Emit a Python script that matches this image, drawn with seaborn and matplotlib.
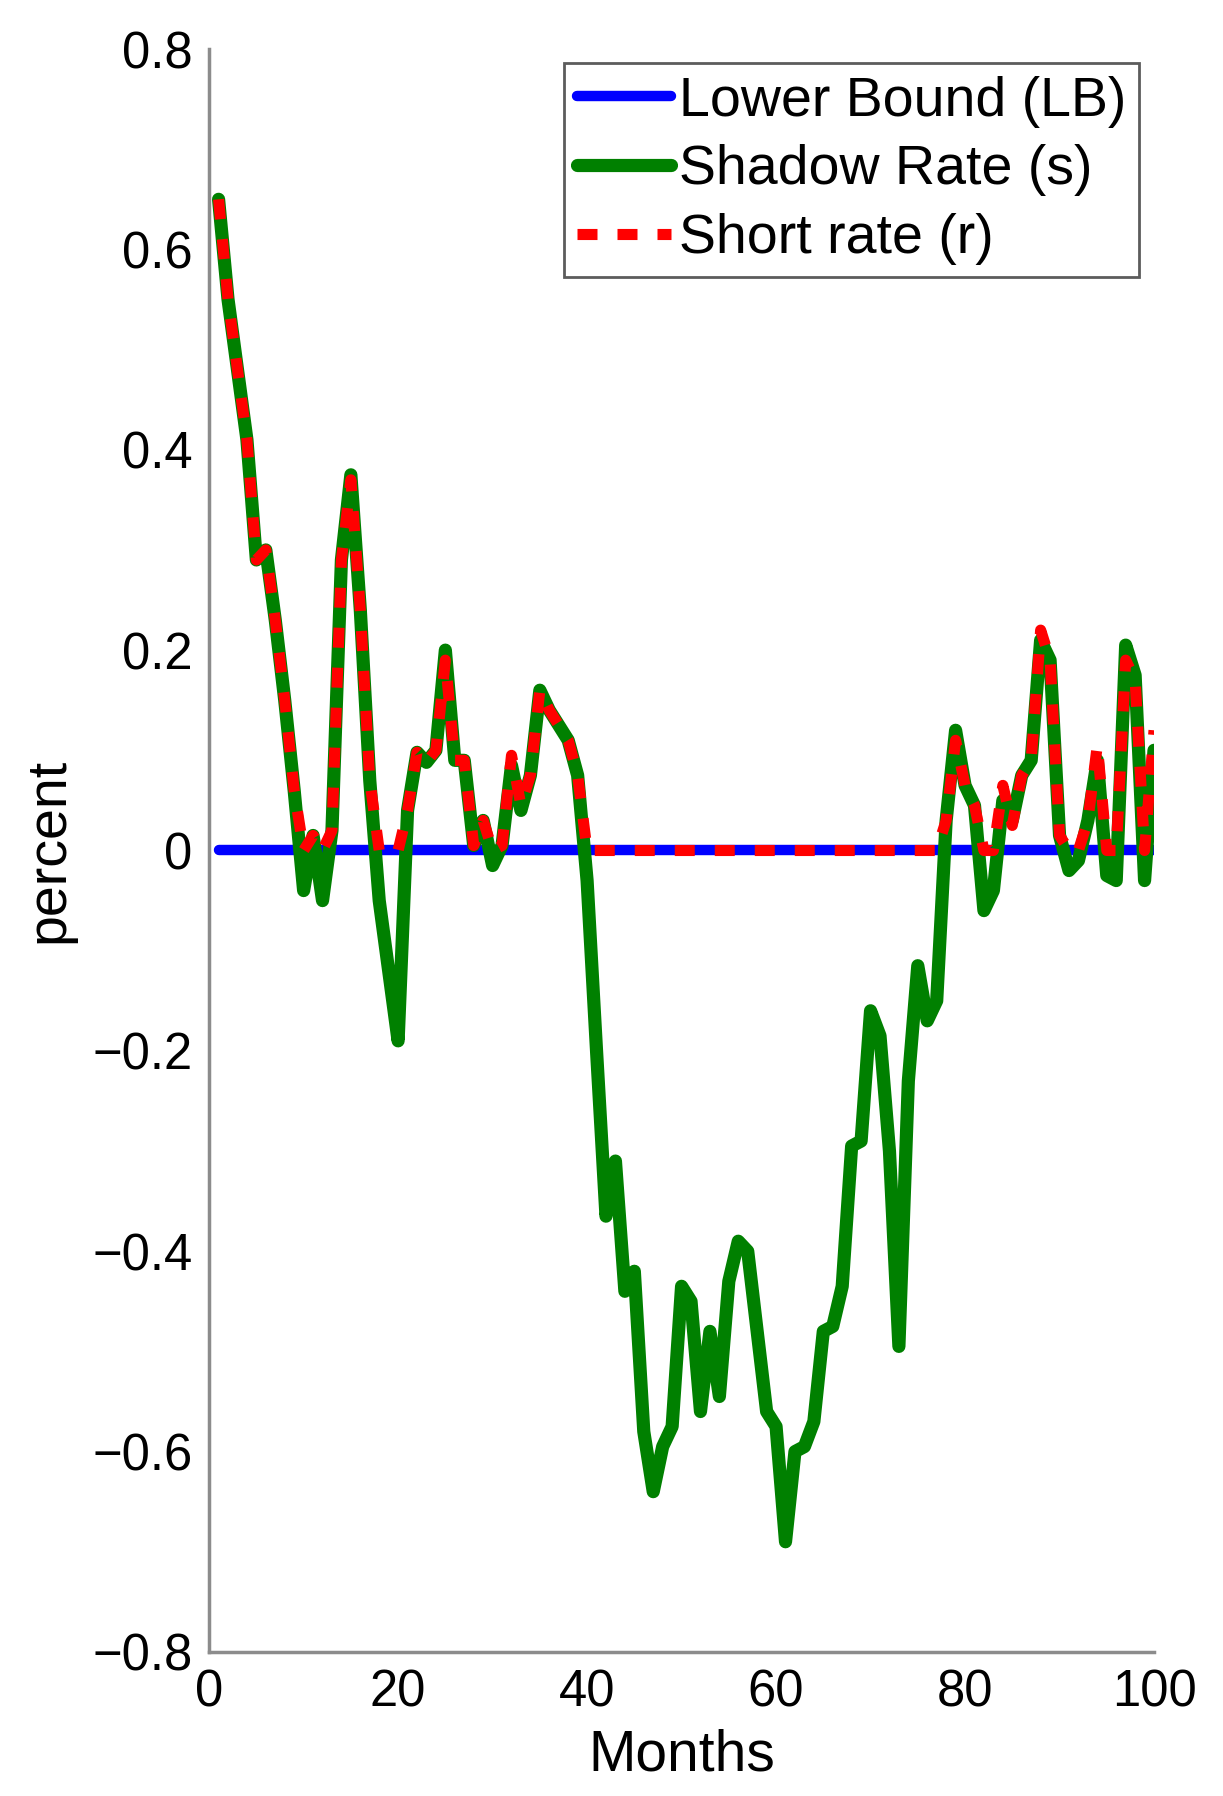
import numpy as np
import pandas as pd
import matplotlib
matplotlib.use("Agg")
import matplotlib.pyplot as plt
import seaborn as sns

# months 1..100
months = list(range(1, 101))

# shadow rate s (green)
shadow_rate = [
    0.65, 0.55, 0.48, 0.41, 0.29, 0.30, 0.23, 0.15, 0.06, -0.04,
    0.015, -0.05, 0.02, 0.29, 0.375, 0.24, 0.07, -0.05, -0.12, -0.19,
    0.04, 0.098, 0.088, 0.10, 0.20, 0.09, 0.09, 0.005, 0.03, -0.015,
    0.005, 0.085, 0.04, 0.075, 0.16, 0.14, 0.125, 0.11, 0.075, -0.03,
    -0.20, -0.365, -0.31, -0.44, -0.42, -0.58, -0.64, -0.595, -0.575, -0.435,
    -0.45, -0.56, -0.48, -0.545, -0.43, -0.39, -0.40, -0.48, -0.56, -0.575,
    -0.69, -0.60, -0.595, -0.57, -0.48, -0.475, -0.435, -0.295, -0.29, -0.16,
    -0.185, -0.30, -0.495, -0.23, -0.115, -0.17, -0.15, 0.03, 0.12, 0.065,
    0.045, -0.06, -0.04, 0.05, 0.03, 0.075, 0.09, 0.21, 0.19, 0.015,
    -0.02, -0.01, 0.03, 0.09, -0.025, -0.03, 0.205, 0.175, -0.03, 0.10,
]

# short rate r (red dashed)
short_rate = [
    0.65, 0.55, 0.48, 0.41, 0.29, 0.30, 0.23, 0.15, 0.06, 0.0,
    0.015, 0.0, 0.02, 0.29, 0.37, 0.24, 0.07, 0.0, 0.0, 0.0,
    0.04, 0.098, 0.088, 0.10, 0.19, 0.09, 0.09, 0.005, 0.03, 0.0,
    0.005, 0.095, 0.045, 0.075, 0.16, 0.14, 0.125, 0.11, 0.075, 0.0,
    0.0, 0.0, 0.0, 0.0, 0.0, 0.0, 0.0, 0.0, 0.0, 0.0,
    0.0, 0.0, 0.0, 0.0, 0.0, 0.0, 0.0, 0.0, 0.0, 0.0,
    0.0, 0.0, 0.0, 0.0, 0.0, 0.0, 0.0, 0.0, 0.0, 0.0,
    0.0, 0.0, 0.0, 0.0, 0.0, 0.0, 0.0, 0.03, 0.11, 0.065,
    0.045, 0.0, 0.0, 0.065, 0.025, 0.075, 0.09, 0.22, 0.19, 0.015,
    0.0, 0.0, 0.03, 0.105, 0.0, 0.0, 0.19, 0.17, 0.0, 0.12,
]

# lower bound (blue), flat
lb_months = [1, 100]
lb_values = [0.0, 0.0]

x_ticks = [0, 20, 40, 60, 80, 100]
y_ticks = [-0.8, -0.6, -0.4, -0.2, 0.0, 0.2, 0.4, 0.6, 0.8]
y_labels = ["\u22120.8", "\u22120.6", "\u22120.4", "\u22120.2", "0", "0.2", "0.4", "0.6", "0.8"]

sns.set_style("white")
plt.rcParams['font.family'] = ['Liberation Sans', 'DejaVu Sans']
plt.rcParams['text.color'] = 'black'
plt.rcParams['axes.labelcolor'] = 'black'

fig = plt.figure(figsize=(12.23, 17.96), dpi=100)
ax = fig.add_axes([0.171, 0.0802, 0.7726, 0.8925])

sns.lineplot(x=lb_months, y=lb_values, color='#0000ff', linewidth=7.5, ax=ax)
sns.lineplot(x=months, y=shadow_rate, color='#008000', linewidth=9.5, ax=ax)
sns.lineplot(x=months, y=short_rate, color='#ff0000', linewidth=8, ax=ax)
ax.lines[2].set_dashes((1.8, 1.8))
ax.lines[2].set_dash_capstyle('butt')

ax.set_xlim(0, 100)
ax.set_ylim(-0.8, 0.8)
ax.set_xticks(x_ticks)
ax.set_yticks(y_ticks)
ax.set_yticklabels(y_labels)

sns.despine(ax=ax)
for side in ['left', 'bottom']:
    ax.spines[side].set_color('#8c8c8c')
    ax.spines[side].set_linewidth(2.5)
ax.tick_params(direction='in', length=11, width=1.5, color='#8c8c8c',
               labelsize=36.5, labelcolor='black', pad=12)

ax.set_xlabel('Months', fontsize=41, labelpad=8)
ax.set_ylabel('percent', fontsize=40, labelpad=12)

leg = ax.legend(ax.lines, ['Lower Bound (LB)', 'Shadow Rate (s)', 'Short rate (r)'],
                loc='upper right', bbox_to_anchor=(0.984, 0.991), borderaxespad=0,
                frameon=True, fancybox=False, edgecolor='#333333', fontsize=40,
                handlelength=1.7, handletextpad=0.15, labelspacing=0.3,
                borderpad=0.22)
leg.get_frame().set_linewidth(2)

fig.savefig('out.png', dpi=100)
